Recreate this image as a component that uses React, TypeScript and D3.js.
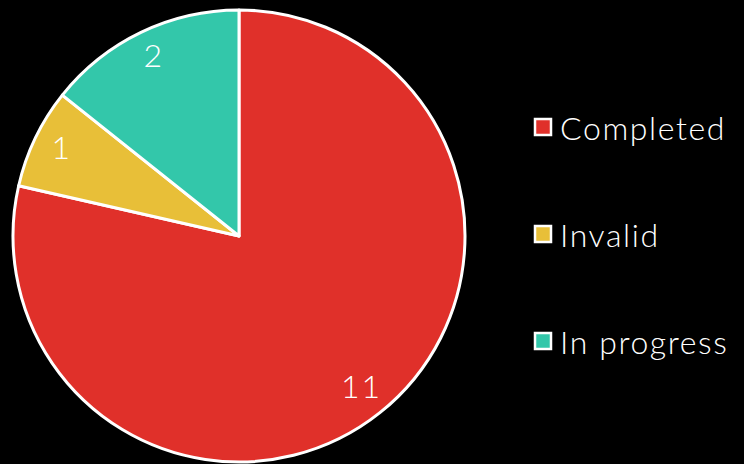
import React from "react";
import * as d3 from "d3";

const categories = ["Completed", "Invalid", "In progress"];
const values = [11, 1, 2];
const colors = ["#E0302A", "#E8BF38", "#33C7AA"];

const W = 744;
const H = 464;
const cx = 239;
const cy = 236;
const R = 226;

export default function App() {
  const pie = d3.pie<number>().sort(null).value((d) => d)(values);
  const arc = d3.arc<d3.PieArcDatum<number>>().innerRadius(0).outerRadius(R);
  const labelArc = d3.arc<d3.PieArcDatum<number>>().innerRadius(R * 0.87).outerRadius(R * 0.87);
  const legendY = d3.scalePoint<string>().domain(categories).range([127, 341]);
  const font = "'Lato', 'DejaVu Sans', sans-serif";
  return (
    <svg width={W} height={H} style={{ position: "absolute", left: 0, top: 0, background: "#000" }}>
      <rect width={W} height={H} fill="#000" />
      <g transform={`translate(${cx},${cy})`}>
        {pie.map((p, i) => (
          <path key={i} d={arc(p) || ""} fill={colors[i]} stroke="#fff" strokeWidth={3} strokeLinejoin="round" />
        ))}
        {pie.map((p, i) => {
          const [x, y] = labelArc.centroid(p);
          return (
            <text key={i} x={x} y={y - 4} textAnchor="middle" dominantBaseline="central" fill="#fff" fontFamily={font} fontWeight={300} fontSize={32} letterSpacing={2}>
              {values[i]}
            </text>
          );
        })}
      </g>
      {categories.map((c, i) => {
        const y = legendY(c) as number;
        return (
          <g key={c}>
            <rect x={535} y={y - 8} width={16} height={16} fill={colors[i]} stroke="#fff" strokeWidth={2.5} />
            <text x={560} y={y} dominantBaseline="central" fill="#fff" fontFamily={font} fontWeight={300} fontSize={32} letterSpacing={1.6}>
              {c}
            </text>
          </g>
        );
      })}
    </svg>
  );
}
